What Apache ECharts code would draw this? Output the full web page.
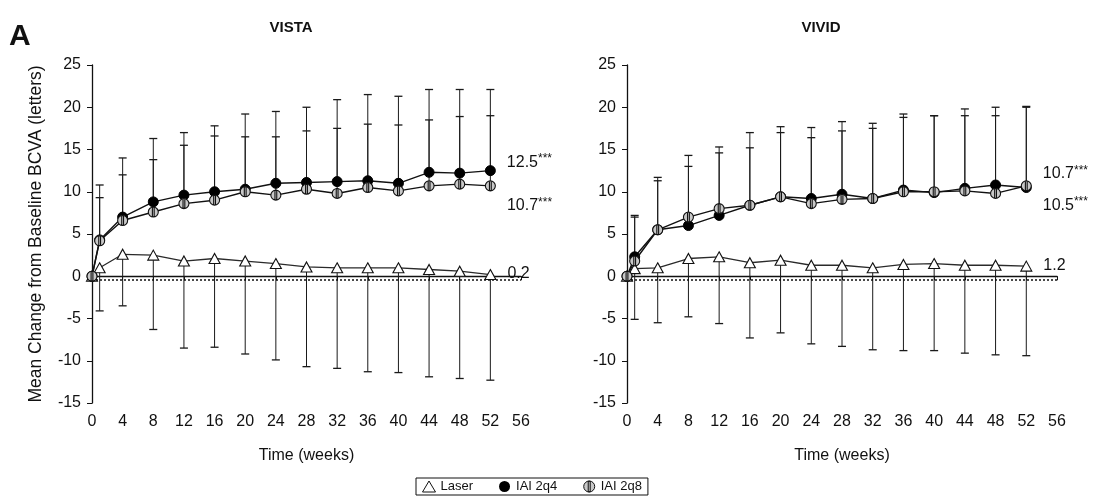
<!DOCTYPE html>
<html>
<head>
<meta charset="utf-8">
<script src="https://cdn.jsdelivr.net/npm/echarts@6/dist/echarts.min.js"></script>
<style>
  html, body { margin: 0; padding: 0; background: #fff; }
  #chart { width: 1094px; height: 500px; }
</style>
</head>
<body>
<div id="chart"></div>
<script>
// Visit schedule (weeks)
const weeks = [0, 1, 4, 8, 12, 16, 20, 24, 28, 32, 36, 40, 44, 48, 52];

// VISTA: mean change in BCVA (letters) and error-bar ends
const vistaLaser     = [0, 1.0, 2.6, 2.5, 1.8, 2.1, 1.8, 1.5, 1.1, 1.0, 1.0, 1.0, 0.8, 0.6, 0.2];
const vistaLaserLow  = [null, -4.1, -3.5, -6.3, -8.5, -8.4, -9.2, -9.9, -10.7, -10.9, -11.3, -11.4, -11.9, -12.1, -12.3];
const vistaQ4        = [0, 4.3, 7.0, 8.8, 9.6, 10.0, 10.3, 11.0, 11.1, 11.2, 11.3, 11.0, 12.3, 12.2, 12.5];
const vistaQ4High    = [null, 10.8, 14.0, 16.3, 17.0, 17.8, 19.2, 19.5, 20.0, 20.9, 21.5, 21.3, 22.1, 22.1, 22.1];
const vistaQ8        = [0, 4.2, 6.6, 7.6, 8.6, 9.0, 10.0, 9.6, 10.3, 9.8, 10.5, 10.1, 10.7, 10.9, 10.7];
const vistaQ8High    = [null, 9.3, 12.0, 13.8, 15.5, 16.6, 16.5, 16.5, 17.2, 17.5, 18.0, 17.9, 18.5, 18.9, 19.0];

// VIVID: mean change in BCVA (letters) and error-bar ends
const vividLaser     = [0, 0.9, 1.0, 2.1, 2.3, 1.6, 1.9, 1.3, 1.3, 1.0, 1.4, 1.5, 1.3, 1.3, 1.2];
const vividLaserLow  = [null, -5.1, -5.5, -4.8, -5.6, -7.3, -6.7, -8.0, -8.3, -8.7, -8.8, -8.8, -9.1, -9.3, -9.4];
const vividQ4        = [0, 2.3, 5.5, 6.0, 7.2, 8.4, 9.4, 9.2, 9.7, 9.2, 10.2, 9.9, 10.4, 10.8, 10.5];
const vividQ4High    = [null, 7.2, 11.7, 14.3, 15.3, 17.0, 17.7, 17.6, 18.3, 18.1, 19.2, 19.0, 19.8, 20.0, 20.1];
const vividQ8        = [0, 1.8, 5.5, 7.0, 8.0, 8.4, 9.4, 8.6, 9.1, 9.2, 10.0, 10.0, 10.1, 9.8, 10.7];
const vividQ8High    = [null, 7.0, 11.3, 13.0, 14.6, 15.2, 17.0, 16.4, 17.2, 17.5, 18.8, 19.0, 19.0, 19.0, 20.0];

// Reference line drawn just under zero
const refLine = -0.4;

// Significance marker appended to end-of-study values
const sigStars = '***';

const studyTitles = ['VISTA', 'VIVID'];
const seriesNames = ['Laser', 'IAI 2q4', 'IAI 2q8'];
const yAxisTitle = 'Mean Change from Baseline BCVA (letters)';
const xAxisTitle = 'Time (weeks)';
const panelLetter = 'A';

const FONT = '"Liberation Sans", Arial, Helvetica, sans-serif';
const chart = echarts.init(document.getElementById('chart'));

// striped grey disc used for the 2q8 arm
const q8Symbol = 'path://M10,0A10,10,0,1,1,10,20A10,10,0,1,1,10,0ZM8.2,0.4L11.8,0.4L11.8,19.6L8.2,19.6Z';

function pairs(ys) { return weeks.map((w, i) => [w, ys[i]]); }
function bars(mean, end) {
  const out = [];
  weeks.forEach((w, i) => { if (end[i] !== null) out.push([w, mean[i], end[i]]); });
  return out;
}

function errRender(params, api) {
  const x = api.value(0);
  const p1 = api.coord([x, api.value(1)]);
  const p2 = api.coord([x, api.value(2)]);
  const hw = 4;
  return {
    type: 'group',
    children: [
      { type: 'line', shape: { x1: p1[0], y1: p1[1], x2: p2[0], y2: p2[1] },
        style: { stroke: '#1a1a1a', lineWidth: 1 } },
      { type: 'line', shape: { x1: p2[0] - hw, y1: p2[1], x2: p2[0] + hw, y2: p2[1] },
        style: { stroke: '#1a1a1a', lineWidth: 1.3 } }
    ]
  };
}

function endLabel(dy, stars) {
  return {
    show: true,
    position: 'right',
    distance: 11,
    offset: [0, dy],
    color: '#111',
    fontFamily: FONT,
    formatter: p => stars
      ? '{v|' + p.value[1].toFixed(1) + '}{s|' + sigStars + '}'
      : '{v|' + p.value[1].toFixed(1) + '}',
    rich: {
      v: { fontSize: 16, fontFamily: FONT, color: '#111' },
      s: { fontSize: 12, fontFamily: FONT, color: '#111', verticalAlign: 'top', padding: [0, 0, 7, 0] }
    }
  };
}

function withEndLabel(ys, label) {
  return pairs(ys).map((d, i) => i === ys.length - 1 ? { value: d, label } : d);
}

function panelSeries(idx, laser, laserLow, q4, q4High, q8, q8High, q4dy, q8dy) {
  const axes = { xAxisIndex: idx, yAxisIndex: idx };
  return [
    Object.assign({ type: 'custom', renderItem: errRender, data: bars(laser, laserLow), z: 1, silent: true }, axes),
    Object.assign({ type: 'custom', renderItem: errRender, data: bars(q4, q4High), z: 1, silent: true }, axes),
    Object.assign({ type: 'custom', renderItem: errRender, data: bars(q8, q8High), z: 1, silent: true }, axes),
    Object.assign({
      name: seriesNames[0], type: 'line', z: 3,
      data: withEndLabel(laser, endLabel(-1, false)),
      symbol: 'triangle', symbolSize: [11, 10],
      lineStyle: { color: '#2a2a2a', width: 1.3 },
      itemStyle: { color: '#fff', borderColor: '#111', borderWidth: 1.1 },
      markLine: {
        silent: true, symbol: 'none', label: { show: false },
        lineStyle: { type: [2, 2], color: '#111', width: 1.6 },
        data: [{ yAxis: refLine }]
      }
    }, axes),
    Object.assign({
      name: seriesNames[1], type: 'line', z: 4,
      data: withEndLabel(q4, endLabel(q4dy, true)),
      symbol: 'circle', symbolSize: 10,
      lineStyle: { color: '#111', width: 1.4 },
      itemStyle: { color: '#000', borderColor: '#000', borderWidth: 1 }
    }, axes),
    Object.assign({
      name: seriesNames[2], type: 'line', z: 5,
      data: withEndLabel(q8, endLabel(q8dy, true)),
      symbol: q8Symbol, symbolSize: 10,
      lineStyle: { color: '#111', width: 1.4 },
      itemStyle: { color: '#c9c9c9', borderColor: '#111', borderWidth: 1.1 }
    }, axes)
  ];
}

function xAxisCfg(idx) {
  return {
    type: 'value', gridIndex: idx, min: 0, max: 56, interval: 4,
    name: xAxisTitle, nameLocation: 'middle', nameGap: 45,
    nameTextStyle: { fontSize: 16, fontFamily: FONT, color: '#111' },
    axisLine: { lineStyle: { color: '#111', width: 1.3 } },
    axisTick: { show: true, inside: false, length: 4, lineStyle: { color: '#111' } },
    axisLabel: { fontSize: 16, fontFamily: FONT, color: '#111', margin: 11 },
    splitLine: { show: false }
  };
}
function yAxisCfg(idx, withName) {
  return {
    type: 'value', gridIndex: idx, min: -15, max: 25, interval: 5,
    name: withName ? yAxisTitle : '', nameLocation: 'middle', nameGap: 47,
    nameTextStyle: { fontSize: 17.5, fontFamily: FONT, color: '#111' },
    axisLine: { show: true, lineStyle: { color: '#111', width: 1.3 } },
    axisTick: { show: true, inside: false, length: 5, lineStyle: { color: '#111' } },
    axisLabel: { fontSize: 16, fontFamily: FONT, color: '#111', margin: 11 },
    splitLine: { show: false }
  };
}

const option = {
  backgroundColor: '#fff',
  animation: false,
  grid: [
    { left: 92, top: 65, width: 429, height: 338 },
    { left: 627, top: 65, width: 430, height: 338 }
  ],
  xAxis: [xAxisCfg(0), xAxisCfg(1)],
  yAxis: [yAxisCfg(0, true), yAxisCfg(1, false)],
  legend: {
    left: 416, top: 478,
    orient: 'horizontal',
    borderColor: '#111', borderWidth: 1, padding: [2, 6, 2, 6],
    itemGap: 26, itemWidth: 13, itemHeight: 11,
    textStyle: { fontSize: 13, fontFamily: FONT, color: '#111' },
    data: [
      { name: seriesNames[0], icon: 'triangle', itemStyle: { color: '#fff', borderColor: '#111', borderWidth: 1 } },
      { name: seriesNames[1], icon: 'circle', itemStyle: { color: '#000', borderColor: '#000', borderWidth: 0 } },
      { name: seriesNames[2], icon: q8Symbol, itemStyle: { color: '#c9c9c9', borderColor: '#111', borderWidth: 1 } }
    ]
  },
  graphic: [
    { type: 'text', left: 9, top: 22, style: { text: panelLetter, font: 'bold 30px ' + FONT, fill: '#111' } },
    { type: 'text', x: 291, y: 28, style: { text: studyTitles[0], font: 'bold 15px ' + FONT, fill: '#111', align: 'center', verticalAlign: 'middle' } },
    { type: 'text', x: 821, y: 28, style: { text: studyTitles[1], font: 'bold 15px ' + FONT, fill: '#111', align: 'center', verticalAlign: 'middle' } }
  ],
  series: [].concat(
    panelSeries(0, vistaLaser, vistaLaserLow, vistaQ4, vistaQ4High, vistaQ8, vistaQ8High, -8, 20),
    panelSeries(1, vividLaser, vividLaserLow, vividQ4, vividQ4High, vividQ8, vividQ8High, 18, -12)
  )
};

chart.setOption(option);
</script>
</body>
</html>
